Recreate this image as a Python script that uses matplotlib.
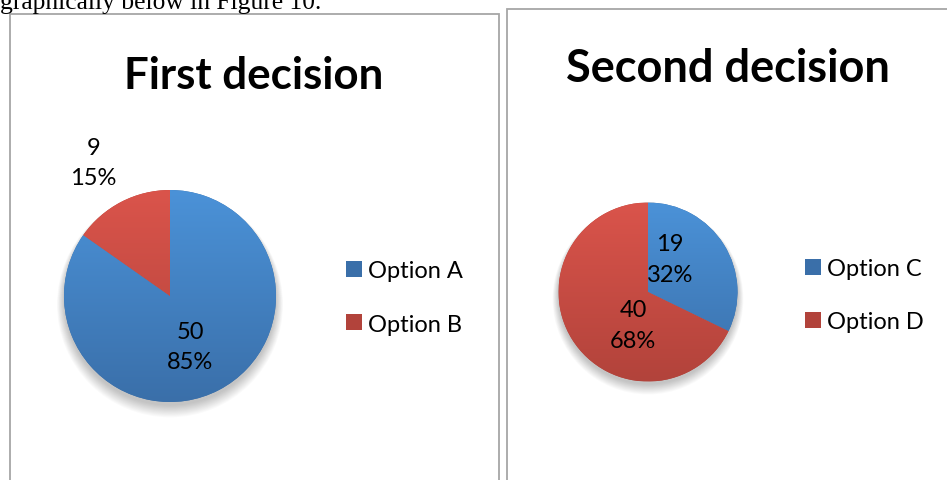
import matplotlib.pyplot as plt
import numpy as np
from matplotlib.colors import LinearSegmentedColormap
from matplotlib.patches import Rectangle, Patch, Circle

# Datos de las dos decisiones
titulos = ['First decision', 'Second decision']
opciones_1 = ['Option A', 'Option B']
valores_1 = [50, 9]
opciones_2 = ['Option C', 'Option D']
valores_2 = [19, 40]

# Colores (arriba -> abajo del degradado)
azul = ('#4b92d8', '#3a6fa9')
rojo = ('#da544b', '#b2433b')

W, H = 947, 481
fig = plt.figure(figsize=(W / 100, H / 100), dpi=100)
fig.patch.set_facecolor('white')

# Texto cortado del documento
fig.text(0.0, 1 - 9 / H, 'graphically below in Figure 10.', family='Liberation Serif',
         fontsize=18.4, va='baseline', ha='left')

# Marcos de los gráficos
for x0, y0, x1 in [(10, 15, 499), (507, 10, 960)]:
    fig.patches.append(Rectangle((x0 / W, -0.05), (x1 - x0) / W, (H - y0) / H + 0.05,
                                 transform=fig.transFigure, fill=False,
                                 edgecolor='#a6a6a6', linewidth=1.3))


def pastel(cx, cy, r, valores, opciones, titulo, tx, ty, tsize, desplaz, leg_x, leg_y):
    ax = fig.add_axes([(cx - r) / W, (H - cy - r) / H, 2 * r / W, 2 * r / H])
    ax.set_axis_off()
    # sombra suave
    for k in range(12):
        ax.add_patch(Circle((0, -0.035 - 0.004 * k), 1.0 + 0.006 * k, color='black',
                            alpha=0.018, lw=0, zorder=0, clip_on=False))
    wedges, _ = ax.pie(valores, startangle=90, counterclock=False, radius=1,
                       colors=[azul[1], rojo[1]], wedgeprops=dict(linewidth=0))
    grad = np.linspace(0, 1, 256).reshape(-1, 1)
    for w, col in zip(wedges, [azul, rojo]):
        cmap = LinearSegmentedColormap.from_list('g', [col[1], col[0]])
        im = ax.imshow(grad, extent=[-1, 1, -1, 1], origin='lower', cmap=cmap,
                       aspect='auto', zorder=2)
        im.set_clip_path(w)
    ax.set_xlim(-1, 1)
    ax.set_ylim(-1, 1)

    total = sum(valores)
    for v, (dx, dy) in zip(valores, desplaz):
        ax.text(dx, dy, f'{v}\n{round(100 * v / total)}%', ha='center', va='center',
                fontsize=17, family='Lato', linespacing=1.55, zorder=5)

    fig.text(tx / W, 1 - ty / H, titulo, ha='center', va='baseline',
             fontsize=tsize, fontweight='bold', family='Lato')

    handles = [Patch(facecolor=azul[1], edgecolor='none'), Patch(facecolor=rojo[1], edgecolor='none')]
    fig.legend(handles, opciones, loc='center left',
               bbox_to_anchor=(leg_x / W, 1 - leg_y / H), frameon=False,
               prop={'family': 'Lato', 'size': 17}, handlelength=0.68, handleheight=0.68,
               handletextpad=0.25, labelspacing=1.36, borderpad=0, borderaxespad=0)


pastel(170, 297, 106, valores_1, opciones_1, titulos[0], 253.5, 89, 31.6,
       [(0.19, -0.476), (-0.72, 1.26)], 346, 298.5)
pastel(648, 293, 89.5, valores_2, opciones_2, titulos[1], 727.5, 82, 32.5,
       [(0.246, 0.369), (-0.168, -0.369)], 805, 296)

fig.savefig('out.png', dpi=100)
